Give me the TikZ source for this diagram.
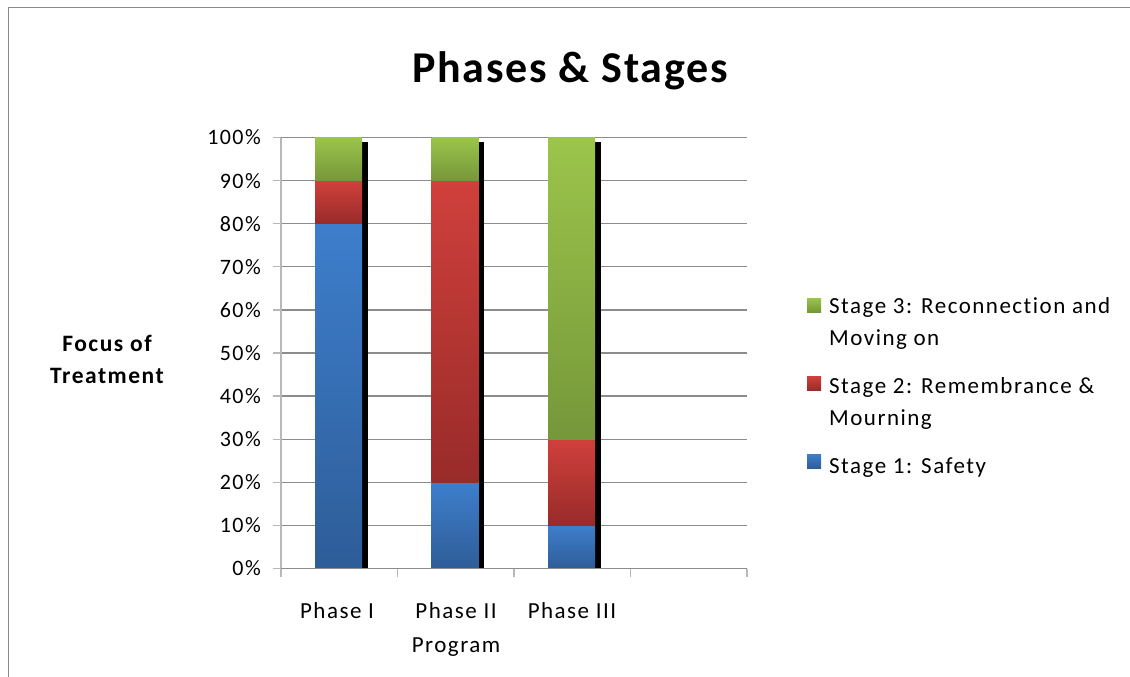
\documentclass[tikz,border=0pt]{standalone}
\usepackage{fontspec}
\setmainfont{Carlito}
\newfontfamily\spaced{Carlito}[LetterSpace=6.5, Ligatures={NoCommon}]
\newfontfamily\titlefont{Carlito}[LetterSpace=4]

\definecolor{gridgray}{HTML}{8C8C8C}
\definecolor{axisgray}{HTML}{B8B8B8}
\definecolor{framegray}{HTML}{8A8A8A}
\definecolor{grnT}{HTML}{9BC54B}
\definecolor{grnB}{HTML}{76973A}
\definecolor{redT}{HTML}{D0403C}
\definecolor{redB}{HTML}{982B29}
\definecolor{bluT}{HTML}{3D7ECC}
\definecolor{bluB}{HTML}{2E5D98}

% vertical position of a percentage value on the value axis
\newcommand\pct[1]{568.5-4.31*#1}

\tikzset{
  gridline/.style={draw=gridgray, line width=1.3pt},
  axisline/.style={draw=axisgray, line width=1.3pt},
  ylabel/.style={anchor=east, inner sep=0pt, font=\spaced\fontsize{22}{26}\selectfont},
  xlabel/.style={anchor=base, inner sep=0pt, align=center, font=\spaced\fontsize{23}{34}\selectfont},
  legendtext/.style={anchor=base west, inner sep=0pt, align=left, font=\spaced\fontsize{23}{32}\selectfont},
  axistitle/.style={anchor=base, inner sep=0pt, align=center, font=\spaced\bfseries\fontsize{23.5}{31.5}\selectfont},
  charttitle/.style={anchor=base, inner sep=0pt, font=\titlefont\bfseries\fontsize{44}{50}\selectfont},
}

% one stacked segment: centre x, from %, to %, top colour, bottom colour
\newcommand\barseg[5]{%
  \shade[top color=#4, bottom color=#5]
    ({#1-23.5},{\pct{#3}}) rectangle ({#1+23.5},{\pct{#2}});}
% dark shadow strip on the right of a column
\newcommand\barshadow[1]{%
  \fill[black] ({#1+23.5},142) rectangle ({#1+29},{\pct{0}});}
% legend swatch centred at a point
\newcommand\swatch[4]{%
  \shade[top color=#3, bottom color=#4] ({#1-7},{#2-7}) rectangle ({#1+7},{#2+7});}

\begin{document}
\begin{tikzpicture}[x=1pt, y=-1pt]
  \useasboundingbox (0,0) rectangle (1130,677);
  \fill[white] (0,0) rectangle (1130,677);

  % chart area frame
  \draw[framegray, line width=1.5pt] (8.5,680) -- (8.5,7.5) -- (1135,7.5);

  % title
  \node[charttitle] (title) at (570,83) {Phases \& Stages};

  % horizontal gridlines and value-axis ticks
  \foreach \p in {10,20,...,100} {
    \draw[gridline] (281,{\pct{\p}}) -- (747,{\pct{\p}});
  }
  \foreach \p in {0,10,...,100} {
    \draw[axisline] (273,{\pct{\p}}) -- (281,{\pct{\p}});
  }

  % columns
  \barshadow{338.5}
  \barseg{338.5}{0}{80}{bluT}{bluB}
  \barseg{338.5}{80}{90}{redT}{redB}
  \barseg{338.5}{90}{100}{grnT}{grnB}

  \barshadow{455}
  \barseg{455}{0}{20}{bluT}{bluB}
  \barseg{455}{20}{90}{redT}{redB}
  \barseg{455}{90}{100}{grnT}{grnB}

  \barshadow{571.5}
  \barseg{571.5}{0}{10}{bluT}{bluB}
  \barseg{571.5}{10}{30}{redT}{redB}
  \barseg{571.5}{30}{100}{grnT}{grnB}

  % axes
  \draw[axisline] (281,{\pct{100}}) -- (281,{\pct{0}});
  \draw[gridline] (281,{\pct{0}}) -- (747,{\pct{0}});
  \foreach \x in {281,397.5,514,630.5,747} {
    \draw[axisline] (\x,{\pct{0}}) -- (\x,577);
  }

  % value-axis labels
  \foreach \p in {0,10,...,100} {
    \node[ylabel] (y\p) at (261,{\pct{\p}}) {\p\%};
  }

  % category labels (base anchor sits on the last line)
  \node[xlabel] (c1) at (337,618) {Phase I};
  \node[xlabel] (c2) at (456,652) {Phase II\\Program};
  \node[xlabel] (c3) at (572,618) {Phase III};

  % value-axis title
  \node[axistitle] (vtitle) at (107,383) {Focus of\\Treatment};

  % legend
  \swatch{814}{305}{grnT}{grnB}
  \node[legendtext] (l3) at (829,345) {Stage 3: Reconnection and\\Moving on};
  \swatch{814}{383.5}{redT}{redB}
  \node[legendtext] (l2) at (829,425) {Stage 2: Remembrance \&\\Mourning};
  \swatch{814}{461.5}{bluT}{bluB}
  \node[legendtext] (l1) at (829,473) {Stage 1: Safety};
\end{tikzpicture}
\end{document}
